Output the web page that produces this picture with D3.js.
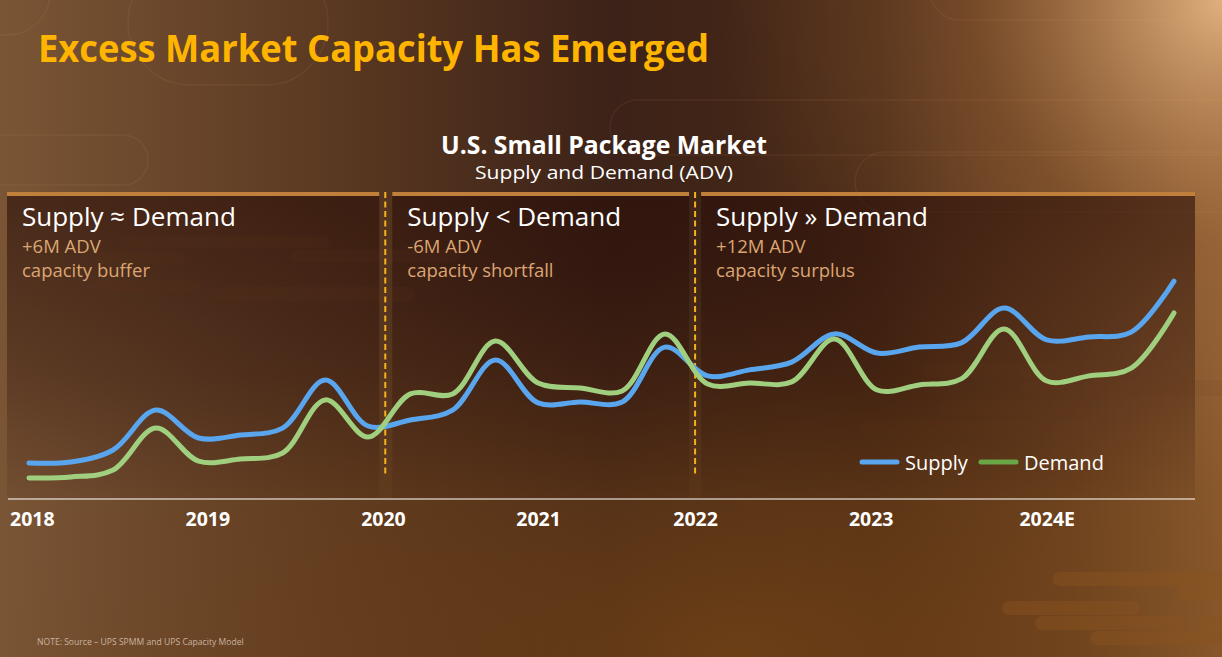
<!DOCTYPE html>
<html><head><meta charset="utf-8">
<script src="https://cdn.jsdelivr.net/npm/d3@7"></script>
<style>html,body{margin:0;padding:0;background:#4a2c1b;overflow:hidden}svg{display:block}</style>
</head><body><svg id="c" width="1222" height="657"></svg>
<script>
// ---------- data ----------
const quarters = ["2018-01","2018-04","2018-07","2018-10","2019-01","2019-04","2019-07","2019-10",
  "2020-01","2020-04","2020-07","2020-10","2021-01","2021-04","2021-07","2021-10",
  "2022-01","2022-04","2022-07","2022-10","2023-01","2023-04","2023-07","2023-10",
  "2024-01","2024-04","2024-07","2024-10"];
const supply = [11.7,12.0,16.0,29.3,20.0,21.0,23.3,39.3,24.0,26.0,29.3,46.0,31.7,32.0,32.0,50.3,
  40.7,42.7,45.3,54.7,48.3,50.3,51.7,63.3,52.7,53.7,55.3,72.3];
const demand = [6.7,7.0,9.3,23.3,12.3,13.0,15.0,32.7,20.3,34.7,34.7,52.3,38.3,36.7,35.7,54.7,
  38.0,38.3,38.7,53.0,36.0,37.7,39.7,56.3,39.0,40.7,43.3,61.7];
const yearLabels = ["2018","2019","2020","2021","2022","2023","2024E"];
const yearLabelDates = ["2018-01-07","2019-01-20","2020-02-02","2021-01-01","2021-12-05","2022-12-18","2024-01-01"];
const regimeBreaks = ["2020-02-07","2021-12-05"];
const regimeTitles = ["Supply \u2248 Demand","Supply < Demand","Supply \u00bb Demand"];
const regimeDeltas = ["+6M ADV","-6M ADV","+12M ADV"];
const regimeNotes = ["capacity buffer","capacity shortfall","capacity surplus"];
const seriesNames = ["Supply","Demand"];

// ---------- setup ----------
const W = 1222, H = 657;
const svg = d3.select("#c");
const defs = svg.append("defs");
const FONT = "'Open Sans','Noto Sans',sans-serif";

const bg = defs.append("linearGradient").attr("id","bg").attr("x1",0).attr("x2",1).attr("y1",0).attr("y2",0);
[[0,"#7a5535"],[0.3,"#573620"],[0.5,"#3c2218"],[0.72,"#482916"],[0.88,"#6a4222"],[1,"#8c5c30"]]
  .forEach(([o,c])=>bg.append("stop").attr("offset",o).attr("stop-color",c));
const glow = defs.append("radialGradient").attr("id","glow").attr("cx",1).attr("cy",0).attr("r",0.75)
  .attr("gradientTransform","scale(0.55,1) translate(0.82,0)");
glow.append("stop").attr("offset",0).attr("stop-color","#e4b482").attr("stop-opacity",0.95);
glow.append("stop").attr("offset",0.5).attr("stop-color","#a87040").attr("stop-opacity",0.35);
glow.append("stop").attr("offset",1).attr("stop-color","#a87040").attr("stop-opacity",0);
const bglow = defs.append("radialGradient").attr("id","bglow").attr("cx",0.6).attr("cy",1).attr("r",0.6);
bglow.append("stop").attr("offset",0).attr("stop-color","#7a4816").attr("stop-opacity",0.75);
bglow.append("stop").attr("offset",1).attr("stop-color","#7a4816").attr("stop-opacity",0);
const pg = defs.append("linearGradient").attr("id","panel").attr("x1",0).attr("x2",0).attr("y1",0).attr("y2",1);
pg.append("stop").attr("offset",0).attr("stop-color","#2a0e08").attr("stop-opacity",0.62);
pg.append("stop").attr("offset",0.6).attr("stop-color","#2a0e08").attr("stop-opacity",0.35);
pg.append("stop").attr("offset",1).attr("stop-color","#2a0e08").attr("stop-opacity",0.08);

svg.append("rect").attr("width",W).attr("height",H).attr("fill","url(#bg)");
svg.append("rect").attr("width",W).attr("height",H).attr("fill","url(#bglow)");
svg.append("rect").attr("width",W).attr("height",H).attr("fill","url(#glow)");

// decorative pills (background ornament)
const deco = svg.append("g").attr("fill","none").attr("stroke","#f0b880").attr("stroke-opacity",0.08).attr("stroke-width",1.5);
[[-60,-50,110,85],[128,-40,200,125],[-60,135,208,50],[610,100,700,55],[855,152,420,60],[930,-40,300,60]]
  .forEach(([x,y,w,h])=>deco.append("rect").attr("x",x).attr("y",y).attr("width",w).attr("height",h).attr("rx",h/2));
const bars = svg.append("g").attr("fill","#8a5220").attr("fill-opacity",0.45);
[[1053,572,200,14],[1002,601,138,14],[1178,587,60,14],[1035,616,150,14],[1198,616,40,14],[1090,631,150,14]]
  .forEach(([x,y,w,h])=>bars.append("rect").attr("x",x).attr("y",y).attr("width",w).attr("height",h).attr("rx",h/2));

// ---------- titles ----------
svg.append("text").attr("x",38).attr("y",62).attr("fill","#FFB500")
  .attr("font-family",FONT).attr("font-weight",700).attr("font-size",38)
  .attr("textLength",671).attr("lengthAdjust","spacingAndGlyphs")
  .text("Excess Market Capacity Has Emerged");
svg.append("text").attr("x",604).attr("y",154).attr("text-anchor","middle").attr("fill","#ffffff")
  .attr("font-family",FONT).attr("font-weight",700).attr("font-size",25)
  .attr("textLength",326).attr("lengthAdjust","spacingAndGlyphs")
  .text("U.S. Small Package Market");
svg.append("text").attr("x",604).attr("y",179).attr("text-anchor","middle").attr("fill","#ffffff")
  .attr("font-family",FONT).attr("font-size",19)
  .attr("textLength",258).attr("lengthAdjust","spacingAndGlyphs")
  .text("Supply and Demand (ADV)");

// ---------- scales ----------
const pm = d3.timeParse("%Y-%m"), pd = d3.timeParse("%Y-%m-%d");
const dates = quarters.map(pm);
const x = d3.scaleTime().domain([dates[0], dates[dates.length-1]]).range([29, 1174]);
const y = d3.scaleLinear().domain([0, 100]).range([498, 198]);
const chartL = 7, chartR = 1195, panelTop = 192, axisY = 499;

// ---------- regime panels ----------
const breaksX = regimeBreaks.map(d=>x(pd(d)));
const edges = [[chartL, breaksX[0]-6],[breaksX[0]+7, breaksX[1]-6],[breaksX[1]+6, chartR]];
edges.forEach(([a,b],i)=>{
  const g = svg.append("g");
  g.append("rect").attr("x",a).attr("y",panelTop).attr("width",b-a).attr("height",axisY-panelTop-1).attr("fill","url(#panel)");
  g.append("rect").attr("x",a).attr("y",panelTop).attr("width",b-a).attr("height",4).attr("fill","#c0803c");
  g.append("text").attr("x",a+15).attr("y",226).attr("fill","#ffffff").attr("font-family",FONT)
    .attr("font-size",26).text(regimeTitles[i]);
  g.append("text").attr("x",a+15).attr("y",253).attr("fill","#dba672").attr("font-family",FONT)
    .attr("font-size",18.5).text(regimeDeltas[i]);
  g.append("text").attr("x",a+15).attr("y",277).attr("fill","#dba672").attr("font-family",FONT)
    .attr("font-size",18.5).text(regimeNotes[i]);
});
// decorative faint pills inside panels
const deco2 = svg.append("g").attr("fill","#6a3a20").attr("fill-opacity",0.1);
[[120,236,210,12],[95,252,90,12],[290,250,170,12],[90,280,110,12],[215,287,200,14],[920,362,200,16],[1020,380,250,16],[940,400,150,16],[860,420,250,16]]
  .forEach(([xx,yy,w,h])=>deco2.append("rect").attr("x",xx).attr("y",yy).attr("width",w).attr("height",h).attr("rx",h/2));

// dashed dividers
breaksX.forEach(bx=>svg.append("line").attr("x1",bx).attr("x2",bx).attr("y1",panelTop).attr("y2",476)
  .attr("stroke","#f5b21c").attr("stroke-width",2).attr("stroke-dasharray","6,3.5"));

// ---------- axis ----------
const tickDates = yearLabelDates.map(pd);
const xAxis = d3.axisBottom(x).tickValues(tickDates).tickSize(0).tickPadding(0)
  .tickFormat((d,i)=>yearLabels[i]);
const ax = svg.append("g").attr("transform",`translate(0,${axisY})`).call(xAxis);
ax.select(".domain").remove();
ax.append("line").attr("x1",chartL+1).attr("x2",chartR).attr("stroke","#ffffff").attr("stroke-width",1.2);
ax.selectAll(".tick text").attr("fill","#ffffff").attr("font-family",FONT).attr("font-weight",700)
  .attr("font-size",19.5).attr("dy",null).attr("y",27);

// ---------- lines ----------
const line = d3.line().x((d,i)=>x(dates[i])).y(d=>y(d)).curve(d3.curveCatmullRom.alpha(0.5));
const colors = ["#5aa6ee","#9fcf7f"];
const legendColors = ["#5aa6ee","#6aa646"];
[supply, demand].forEach((s,i)=>{
  svg.append("path").datum(s).attr("d",line).attr("fill","none").attr("stroke",colors[i])
    .attr("stroke-width",5).attr("stroke-linecap","round").attr("stroke-linejoin","round");
});

// ---------- legend ----------
const lg = svg.append("g").attr("transform","translate(862,462)");
const legX = [0,119];
seriesNames.forEach((n,i)=>{
  lg.append("line").attr("x1",legX[i]).attr("x2",legX[i]+35).attr("stroke",legendColors[i])
    .attr("stroke-width",5).attr("stroke-linecap","round");
  lg.append("text").attr("x",legX[i]+43).attr("y",7.5).attr("fill","#ffffff").attr("font-family",FONT)
    .attr("font-size",20).text(n);
});

// ---------- footnote ----------
svg.append("text").attr("x",37).attr("y",645).attr("fill","#c8b4a0").attr("font-family",FONT)
  .attr("font-size",8.6).text("NOTE: Source \u2013 UPS SPMM and UPS Capacity Model");
</script></body></html>
